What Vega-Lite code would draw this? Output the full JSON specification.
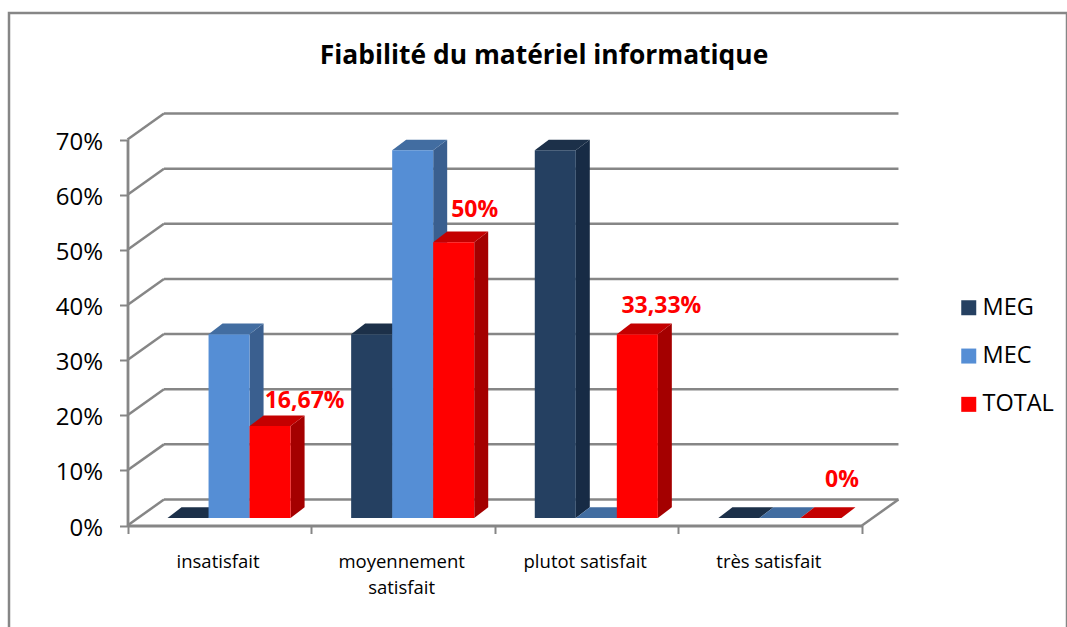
{
"$schema":"https://vega.github.io/schema/vega-lite/v6.json",
"width":1058,"height":620,
"autosize":{"type":"none"},
"padding":{"left":9,"top":13,"right":0,"bottom":0},
"background":"white",
"config":{"font":"Open Sans","view":{"stroke":"#868686","strokeWidth":2.5}},
"title":{"text":"Fiabilité du matériel informatique","font":"Open Sans","fontSize":26.4,"fontWeight":"bold","color":"#000000","anchor":"middle","frame":"group","dx":6,"dy":60},
"datasets":{
"bars":[
{"category":"insatisfait","series":"MEG","value":0},
{"category":"insatisfait","series":"MEC","value":33.33},
{"category":"insatisfait","series":"TOTAL","value":16.67,"label":"16,67%"},
{"category":"moyennement satisfait","series":"MEG","value":33.33},
{"category":"moyennement satisfait","series":"MEC","value":66.67},
{"category":"moyennement satisfait","series":"TOTAL","value":50,"label":"50%"},
{"category":"plutot satisfait","series":"MEG","value":66.67},
{"category":"plutot satisfait","series":"MEC","value":0},
{"category":"plutot satisfait","series":"TOTAL","value":33.33,"label":"33,33%"},
{"category":"très satisfait","series":"MEG","value":0},
{"category":"très satisfait","series":"MEC","value":0},
{"category":"très satisfait","series":"TOTAL","value":0,"label":"0%"}
],
"grid":[{"v":0},{"v":10},{"v":20},{"v":30},{"v":40},{"v":50},{"v":60},{"v":70}]
},
"data":{"name":"bars"},
"transform":[
{"calculate":"indexof(['insatisfait','moyennement satisfait','plutot satisfait','très satisfait'],datum.category)","as":"ci"},
{"calculate":"indexof(['MEG','MEC','TOTAL'],datum.series)","as":"si"},
{"calculate":"datum.ci+0.218+datum.si*0.2234","as":"x0"},
{"calculate":"datum.x0+0.2234","as":"x1"},
{"calculate":"datum.x0+0.1117","as":"xc"},
{"calculate":"datum.value+1.36","as":"t"},
{"calculate":"datum.category+datum.series","as":"id"}
],
"layer":[
{"data":{"name":"grid"},
"transform":[{"calculate":"datum.v+4.715","as":"vb"},{"calculate":"0.1986","as":"xa"},{"calculate":"4.1986","as":"xb"}],
"mark":{"type":"rule","color":"#868686","strokeWidth":2.5},
"encoding":{
"x":{"field":"xa","type":"quantitative","title":null,"scale":{"domain":[0,4],"range":[118.5,853]},
"axis":{"values":[0,1,2,3,4],"orient":"bottom","offset":-107.5,"title":null,"grid":false,"domainColor":"#868686","domainWidth":2.8,"tickColor":"#868686","tickWidth":2,"tickSize":8,"labelFontSize":18.5,"labelColor":"#000000","labelOffset":90,"labelPadding":19,"labelFlush":false,"labelOverlap":false,"labelBound":false,"labelLineHeight":26,"labelBaseline":"top",
"labelExpr":"datum.value==0?'insatisfait':datum.value==1?['moyennement','satisfait']:datum.value==2?'plutot satisfait':datum.value==3?'très satisfait':''"}},
"x2":{"field":"xb"},
"y":{"field":"vb","type":"quantitative","title":null,"scale":{"domain":[0,70],"range":[512.5,126.5]},
"axis":{"values":[0,10,20,30,40,50,60,70],"orient":"left","offset":-118.5,"title":null,"grid":false,"domainColor":"#868686","domainWidth":2.8,"tickColor":"#868686","tickWidth":2,"tickSize":8,"labelFontSize":24,"labelColor":"#000000","labelPadding":17,"labelOffset":2.5,"labelFlush":false,"labelOverlap":false,"labelBound":false,"labelExpr":"datum.value+'%'"}}
}},
{"data":{"name":"grid"},
"transform":[{"calculate":"datum.v+4.715","as":"vb"},{"calculate":"0","as":"xa"},{"calculate":"0.1986","as":"xb"}],
"mark":{"type":"rule","color":"#868686","strokeWidth":2.5},
"encoding":{"x":{"field":"xa","type":"quantitative"},"x2":{"field":"xb"},"y":{"field":"v","type":"quantitative"},"y2":{"field":"vb"}}},
{"data":{"name":"grid"},
"transform":[{"filter":"datum.v==0"},{"calculate":"datum.v+4.715","as":"vb"},{"calculate":"4","as":"xa"},{"calculate":"4.1986","as":"xb"}],
"mark":{"type":"rule","color":"#868686","strokeWidth":2.5},
"encoding":{"x":{"field":"xa","type":"quantitative"},"x2":{"field":"xb"},"y":{"field":"v","type":"quantitative"},"y2":{"field":"vb"}}},
{"transform":[
{"calculate":"[datum.x1,datum.x1+0.0762]","as":"px"},
{"calculate":"[1.36,3.3]","as":"lo"},
{"calculate":"[datum.t,datum.t+1.94]","as":"hi"},
{"flatten":["px","lo","hi"]}],
"mark":{"type":"area","interpolate":"linear"},
"encoding":{"x":{"field":"px","type":"quantitative"},"y":{"field":"hi","type":"quantitative","stack":false},"y2":{"field":"lo"},"detail":{"field":"id"},
"fill":{"field":"series","type":"nominal","legend":null,"scale":{"domain":["MEG","MEC","TOTAL"],"range":["#172b45","#3a5f8f","#a40000"]}}}},
{"transform":[
{"calculate":"[datum.x0,datum.x0+0.0762,datum.x1,datum.x1+0.0762]","as":"px"},
{"calculate":"[datum.t,datum.t,datum.t,datum.t+1.94]","as":"lo"},
{"calculate":"[datum.t,datum.t+1.94,datum.t+1.94,datum.t+1.94]","as":"hi"},
{"flatten":["px","lo","hi"]}],
"mark":{"type":"area","interpolate":"linear"},
"encoding":{"x":{"field":"px","type":"quantitative"},"y":{"field":"hi","type":"quantitative","stack":false},"y2":{"field":"lo"},"detail":{"field":"id"},
"fill":{"field":"series","type":"nominal","legend":null,"scale":{"domain":["MEG","MEC","TOTAL"],"range":["#1c3049","#426da1","#c40000"]}}}},
{"transform":[{"calculate":"1.36","as":"b"}],
"mark":{"type":"rect"},
"encoding":{"x":{"field":"x0","type":"quantitative"},"x2":{"field":"x1"},"y":{"field":"t","type":"quantitative"},"y2":{"field":"b"},
"color":{"field":"series","type":"nominal","scale":{"domain":["MEG","MEC","TOTAL"],"range":["#254061","#558ed5","#ff0000"]},
"legend":{"title":null,"orient":"none","legendX":948,"legendY":283,"symbolType":"square","symbolSize":225,"symbolStrokeWidth":0,"labelFontSize":23.5,"labelColor":"#000000","labelOffset":2,"rowPadding":23.3,"labelFont":"Open Sans"}}}},
{"transform":[{"filter":"datum.category=='insatisfait' && datum.series=='TOTAL'"}],
"mark":{"type":"text","color":"#ff0000","fontWeight":"bold","fontSize":23,"dx":34.5,"dy":-18,"baseline":"alphabetic"},
"encoding":{"x":{"field":"xc","type":"quantitative"},"y":{"field":"t","type":"quantitative"},"text":{"field":"label"}}},
{"transform":[{"filter":"datum.category=='moyennement satisfait' && datum.series=='TOTAL'"}],
"mark":{"type":"text","color":"#ff0000","fontWeight":"bold","fontSize":23,"dx":21,"dy":-25,"baseline":"alphabetic"},
"encoding":{"x":{"field":"xc","type":"quantitative"},"y":{"field":"t","type":"quantitative"},"text":{"field":"label"}}},
{"transform":[{"filter":"datum.category=='plutot satisfait' && datum.series=='TOTAL'"}],
"mark":{"type":"text","color":"#ff0000","fontWeight":"bold","fontSize":23,"dx":24,"dy":-21,"baseline":"alphabetic"},
"encoding":{"x":{"field":"xc","type":"quantitative"},"y":{"field":"t","type":"quantitative"},"text":{"field":"label"}}},
{"transform":[{"filter":"datum.category=='très satisfait' && datum.series=='TOTAL'"}],
"mark":{"type":"text","color":"#ff0000","fontWeight":"bold","fontSize":23,"dx":21,"dy":-31,"baseline":"alphabetic"},
"encoding":{"x":{"field":"xc","type":"quantitative"},"y":{"field":"t","type":"quantitative"},"text":{"field":"label"}}}
],
"resolve":{"scale":{"fill":"independent","color":"independent"}}
}
